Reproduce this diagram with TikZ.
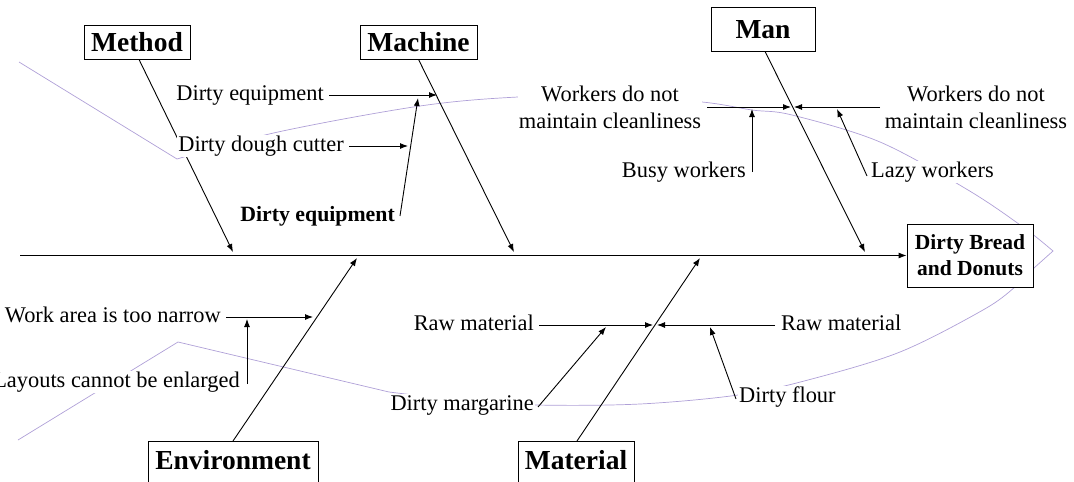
\documentclass[tikz,border=0pt]{standalone}
\usepackage{fontspec}
\setmainfont{Liberation Serif}
\usetikzlibrary{arrows.meta}
\definecolor{fishc}{RGB}{175,160,215}
\begin{document}
\begin{tikzpicture}[x=1pt,y=-1pt,
  line/.style={line width=0.9pt, black},
  arr/.style={line, -{Latex[length=8pt,width=6pt]}},
  fish/.style={line width=0.7pt, fishc},
  box/.style={draw, fill=white, line width=0.9pt, font=\bfseries\fontsize{27.5}{30}\selectfont, inner sep=0pt, text height=18.2pt, text depth=0pt},
  lbl/.style={fill=white, inner sep=1pt, font=\fontsize{22.4}{27}\selectfont, text height=15pt, text depth=5pt},
  mlbl/.style={fill=white, inner sep=1pt, font=\fontsize{22.4}{27}\selectfont, align=center},
  blbl/.style={lbl, font=\bfseries\fontsize{21.8}{26}\selectfont}
]
\useasboundingbox (0,0) rectangle (1074,482);

% fish outline
\draw[fish] (19,62) -- (177,159)
  -- plot[smooth, tension=0.55] coordinates {(177,159) (278,132) (420,106) (518,97) (610,96) (702,102) (752,110) (792,115) (880,142) (968,190) (1023,227) (1053,251)}
  -- (1034,268)
  -- plot[smooth, tension=0.55] coordinates {(1034,268) (1015,287) (983,310) (900,352) (808,380) (738,395) (640,404) (537,405) (460,400) (389,392)}
  -- (178,342) -- (18,440);

% coordinates
\coordinate (sp0) at (20,255.5);
\coordinate (tMethod) at (233,252);
\coordinate (tMachine) at (514,252);
\coordinate (tMan) at (865,252);
\coordinate (tEnv) at (357,258);
\coordinate (tMat) at (700,258);
\coordinate (tEq1) at (437,95);
\coordinate (tDough) at (408,146);
\coordinate (tEq2) at (418,98);
\coordinate (tWL) at (791,107);
\coordinate (tWR) at (794,107);
\coordinate (sWL) at (707,107);
\coordinate (sWR) at (880,107);
\coordinate (tBusy) at (752,109);
\coordinate (tLazy) at (837,109);
\coordinate (tWork) at (313,317);
\coordinate (tLay) at (247,319);
\coordinate (tRawL) at (653,325);
\coordinate (tRawR) at (657,325);
\coordinate (tMarg) at (606,327);
\coordinate (tFlour) at (710,327);

% boxes
\node[box, minimum width=106pt, minimum height=34pt] (method) at (137,42) {Method};
\node[box, minimum width=117pt, minimum height=34pt] (machine) at (418.5,42) {Machine};
\node[box, minimum width=104pt, minimum height=44pt] (man) at (763,29) {Man};
\node[box, anchor=north, minimum width=170pt, inner ysep=10pt, text depth=40pt] (env) at (233,441) {Environment};
\node[box, anchor=north, minimum width=116pt, inner ysep=10pt, text depth=40pt] (mat) at (576,441) {Material};
\node[box, minimum width=126pt, minimum height=63pt, align=center, font=\bfseries\fontsize{21.5}{26}\selectfont, text height=, text depth=] (result) at (970,255.5) {Dirty Bread\\and Donuts};

% spine and main branches
\draw[arr] (sp0) -- (result.west);
\draw[arr] ([xshift=2pt]method.south) -- (tMethod);
\draw[arr] (machine.south) -- (tMachine);
\draw[arr] ([xshift=2pt]man.south) -- (tMan);
\draw[arr] (env.north) -- (tEnv);
\draw[arr] ([xshift=1pt]mat.north) -- (tMat);

% labels
\node[lbl, anchor=east] (eq1) at (325,95) {Dirty equipment};
\node[lbl, anchor=east] (dough) at (345,146) {Dirty dough cutter};
\node[blbl, anchor=east] (eq2) at (396,216) {Dirty equipment};
\node[mlbl] (wl) at (610,107) {Workers do not\\maintain cleanliness};
\node[mlbl] (wr) at (976,107) {Workers do not\\maintain cleanliness};
\node[lbl, anchor=east] (busy) at (747,172) {Busy workers};
\node[lbl, anchor=west] (lazy) at (870,172) {Lazy workers};
\node[lbl, anchor=east] (work) at (222,317) {Work area is too narrow};
\node[lbl, anchor=east] (lay) at (241,382) {Layouts cannot be enlarged};
\node[lbl, anchor=east] (rawl) at (535,325) {Raw material};
\node[lbl, anchor=west] (rawr) at (780,325) {Raw material};
\node[lbl, anchor=east] (marg) at (535,405) {Dirty margarine};
\node[lbl, anchor=west] (flour) at (738,397) {Dirty flour};

% sub-cause connectors
\draw[arr] ([xshift=4pt]eq1.east) -- (tEq1);
\draw[arr] ([xshift=4pt]dough.east) -- (tDough);
\draw[arr] ([xshift=4pt]eq2.east) -- (tEq2);
\draw[arr] (sWL) -- (tWL);
\draw[arr] (sWR) -- (tWR);
\draw[arr] ([xshift=5pt]busy.east) -- (tBusy);
\draw[arr] ([xshift=-3pt,yshift=-4pt]lazy.west) -- (tLazy);
\draw[arr] ([xshift=4pt]work.east) -- (tWork);
\draw[arr] ([xshift=6pt,yshift=-2pt]lay.east) -- (tLay);
\draw[arr] ([xshift=4pt]rawl.east) -- (tRawL);
\draw[arr] ([xshift=-5pt]rawr.west) -- (tRawR);
\draw[arr] ([xshift=3pt,yshift=-2pt]marg.east) -- (tMarg);
\draw[arr] ([xshift=-2pt,yshift=-2pt]flour.west) -- (tFlour);
\end{tikzpicture}
\end{document}
